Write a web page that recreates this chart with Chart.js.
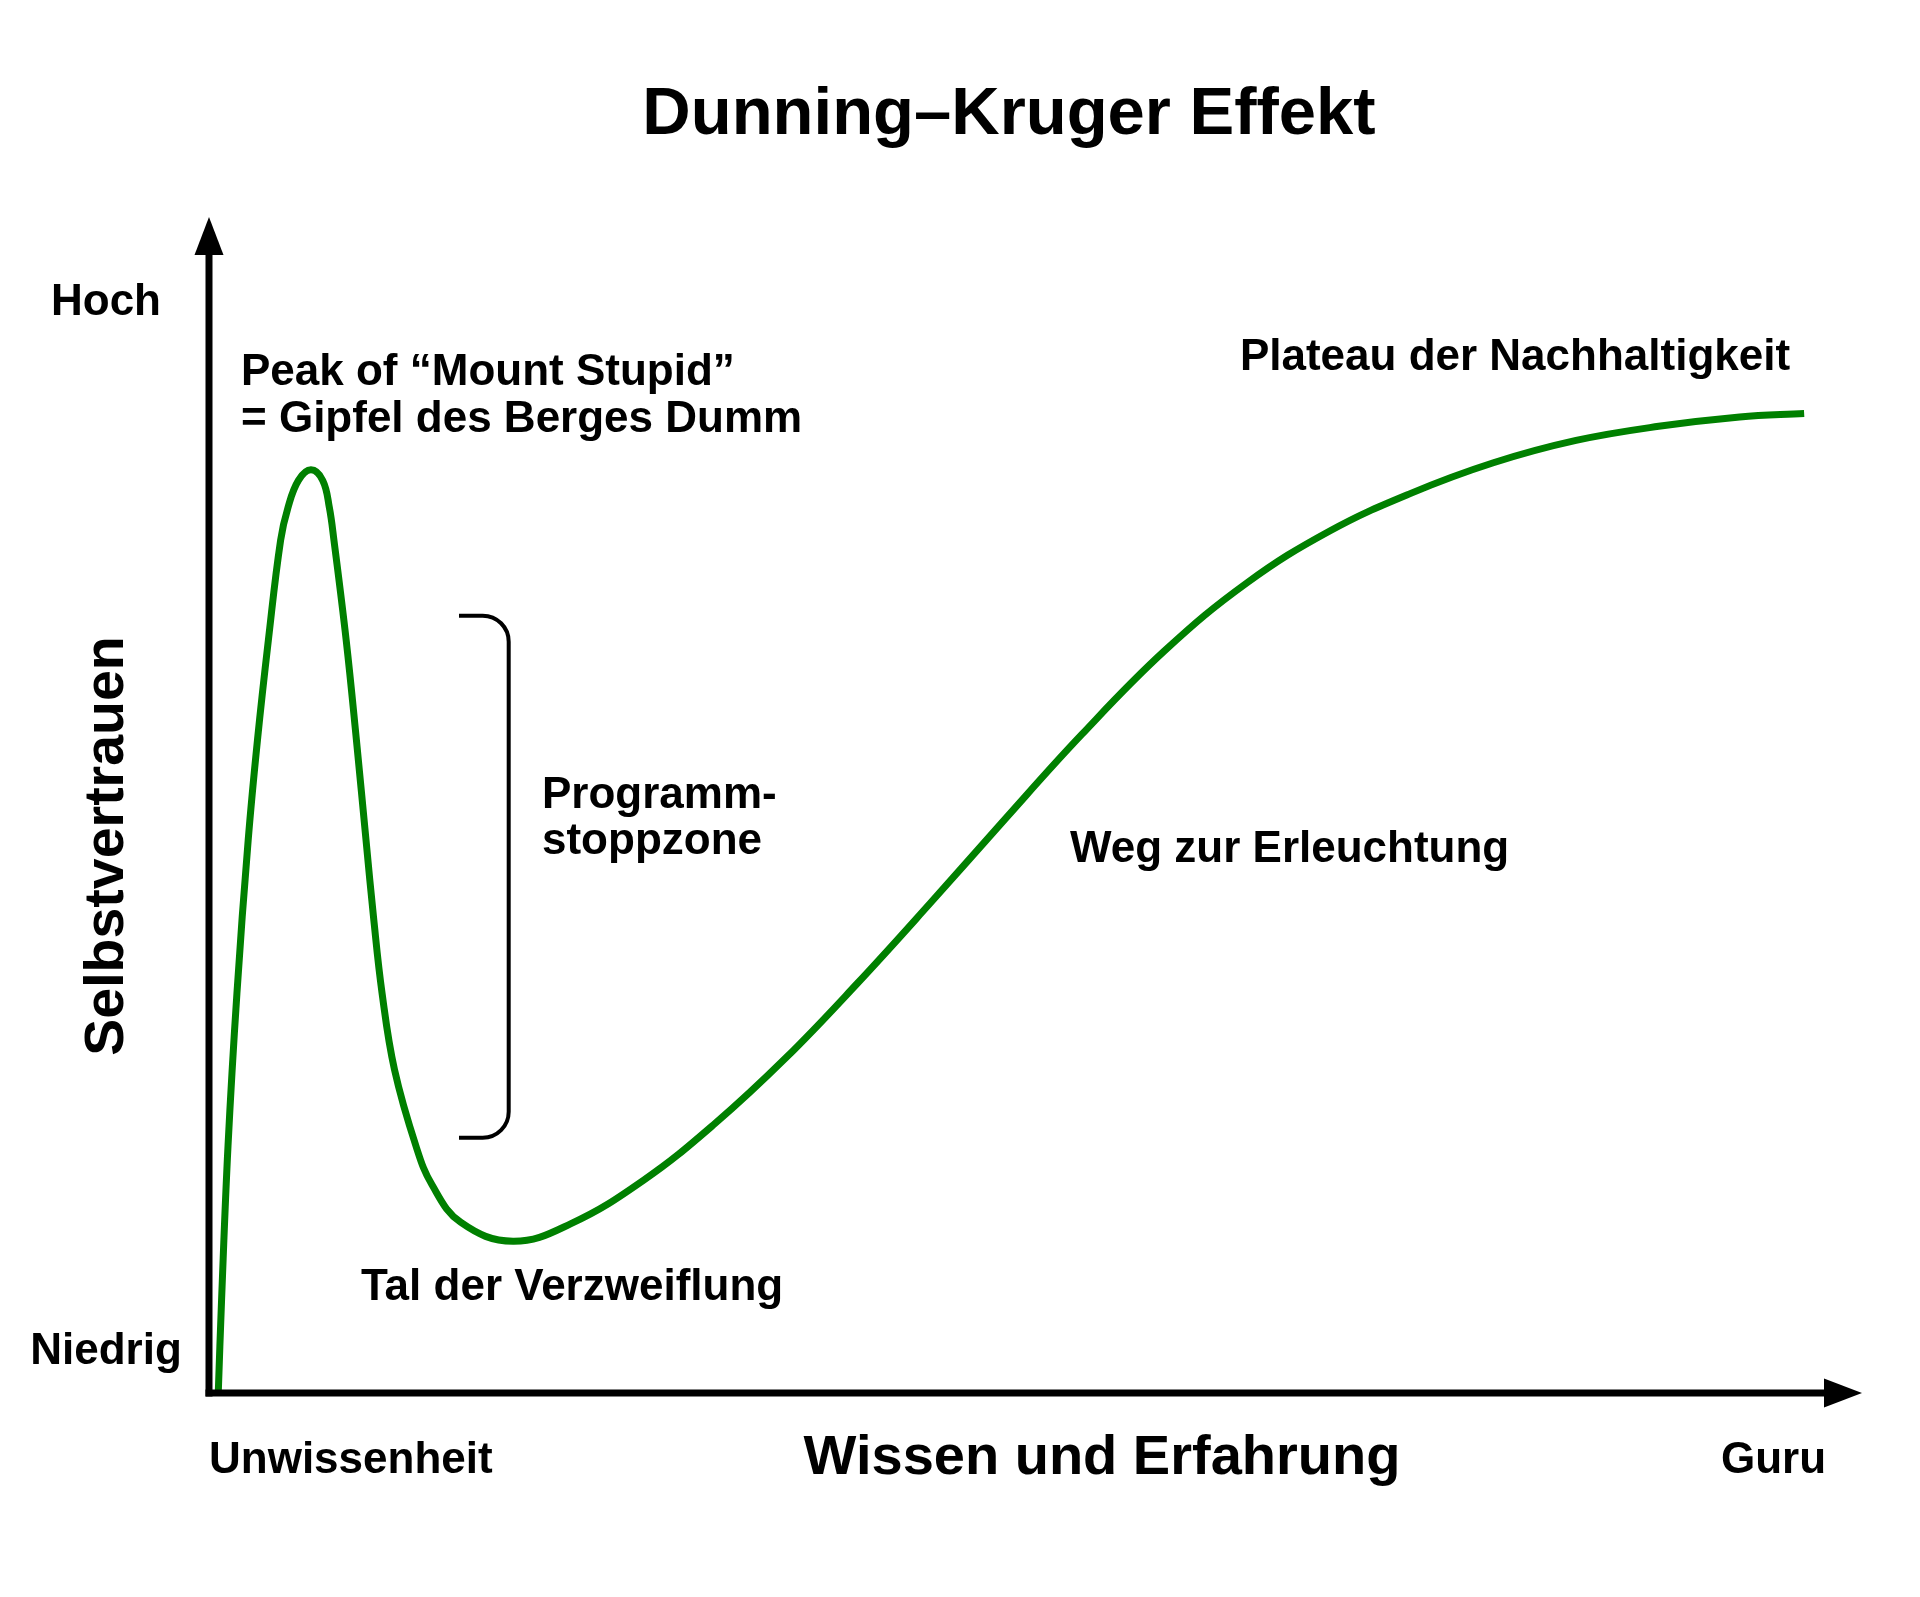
<!DOCTYPE html>
<html lang="de">
<head>
<meta charset="utf-8">
<title>Dunning–Kruger Effekt</title>
<script src="https://cdn.jsdelivr.net/npm/chart.js@4.4.1/dist/chart.umd.min.js"></script>
<style>
  html, body { margin: 0; padding: 0; background: #fff; }
  canvas { display: block; }
</style>
</head>
<body>
<canvas id="chart" width="1920" height="1597"></canvas>
<script>
// Wissen und Erfahrung (0 = Unwissenheit, 100 = Pfeilspitze)
const knowledge = [
  0.56, 0.76, 1.15, 1.69, 2.37, 2.93, 3.59, 4.33, 4.78, 5.41,
  6.17, 6.88, 7.28, 7.56, 8.30, 8.92, 9.50, 9.95, 10.47, 11.22,
  12.52, 13.49, 15.24, 18.39, 21.9, 26.3, 30.6, 34.9, 39.2, 43.6,
  47.9, 52.8, 57.8, 62.8, 67.8, 72.7, 77.7, 82.7, 87.7, 92.6,
  96.5
];

// Selbstvertrauen (0 = Achse, 100 = Pfeilspitze)
const confidence = [
  0.0, 7.9, 21.0, 34.0, 47.0, 55.5, 64.0, 72.5, 75.3, 77.6,
  78.5, 77.6, 75.3, 72.5, 64.0, 55.5, 47.0, 40.5, 34.0, 27.5,
  21.0, 17.7, 14.5, 12.9, 14.4, 18.1, 22.9, 28.5, 34.8, 41.6,
  48.4, 56.0, 63.1, 68.9, 73.3, 76.5, 79.1, 81.0, 82.2, 83.0,
  83.3
];

const yTickLabels = ['Niedrig', 'Hoch'];
const yTickValues = [3.8, 93.0];
const xTickLabels = ['Unwissenheit', 'Guru'];
const stopZone = [21.7, 66.1];

const FONT = '"Liberation Sans", Arial, Helvetica, sans-serif';
const CURVE_COLOR = 'rgb(0, 128, 0)';

const drawText = (ctx, text, x, y, size, align = 'left') => {
  ctx.font = `bold ${size}px ${FONT}`;
  ctx.textAlign = align;
  ctx.textBaseline = 'alphabetic';
  ctx.fillText(text, x, y);
};

const sketchPlugin = {
  id: 'sketch',
  beforeDraw(chart) {
    const { ctx, width, height } = chart;
    ctx.save();
    ctx.fillStyle = '#fff';
    ctx.fillRect(0, 0, width, height);
    ctx.restore();
  },
  afterDatasetsDraw(chart) {
    const { ctx, chartArea: area, scales: { x, y } } = chart;
    const x0 = x.getPixelForValue(0);
    const y0 = y.getPixelForValue(0);

    ctx.save();
    ctx.strokeStyle = '#000';
    ctx.fillStyle = '#000';
    ctx.lineWidth = 7;
    ctx.lineCap = 'butt';

    // y axis with arrow
    ctx.beginPath();
    ctx.moveTo(x0, y0 + 3.5);
    ctx.lineTo(x0, area.top + 36);
    ctx.stroke();
    ctx.beginPath();
    ctx.moveTo(x0, area.top);
    ctx.lineTo(x0 + 14.5, area.top + 38);
    ctx.lineTo(x0 - 14.5, area.top + 38);
    ctx.closePath();
    ctx.fill();

    // x axis with arrow
    ctx.beginPath();
    ctx.moveTo(x0 - 3.5, y0);
    ctx.lineTo(area.right - 36, y0);
    ctx.stroke();
    ctx.beginPath();
    ctx.moveTo(area.right, y0);
    ctx.lineTo(area.right - 38, y0 - 14.5);
    ctx.lineTo(area.right - 38, y0 + 14.5);
    ctx.closePath();
    ctx.fill();

    // bracket for the stop zone
    const top = y.getPixelForValue(stopZone[1]);
    const bottom = y.getPixelForValue(stopZone[0]);
    const bx = 508.7;
    const left = 459;
    const r = 26;
    ctx.lineWidth = 4;
    ctx.beginPath();
    ctx.moveTo(left, top);
    ctx.lineTo(bx - r, top);
    ctx.arcTo(bx, top, bx, top + r, r);
    ctx.lineTo(bx, bottom - r);
    ctx.arcTo(bx, bottom, bx - r, bottom, r);
    ctx.lineTo(left, bottom);
    ctx.stroke();
    ctx.restore();
  },
  afterDraw(chart) {
    const { ctx, scales: { y } } = chart;
    ctx.save();
    ctx.fillStyle = '#000';

    drawText(ctx, 'Dunning–Kruger Effekt', 1009, 134, 67, 'center');

    // y tick labels (vertical centre of the text at the value)
    yTickLabels.forEach((label, i) => {
      drawText(ctx, label, 106, y.getPixelForValue(yTickValues[i]) + 15.5, 44, 'center');
    });

    drawText(ctx, xTickLabels[0], 209, 1473, 44);
    drawText(ctx, xTickLabels[1], 1721, 1473, 44);

    drawText(ctx, 'Wissen und Erfahrung', 1102, 1474, 56, 'center');

    ctx.save();
    ctx.translate(123, 846);
    ctx.rotate(-Math.PI / 2);
    drawText(ctx, 'Selbstvertrauen', 0, 0, 55.5, 'center');
    ctx.restore();

    drawText(ctx, 'Peak of “Mount Stupid”', 241, 385, 44);
    drawText(ctx, '= Gipfel des Berges Dumm', 241, 432, 44);
    drawText(ctx, 'Plateau der Nachhaltigkeit', 1515, 370, 44, 'center');
    drawText(ctx, 'Programm-', 542, 808, 44);
    drawText(ctx, 'stoppzone', 542, 854, 44);
    drawText(ctx, 'Weg zur Erleuchtung', 1070, 862, 44);
    drawText(ctx, 'Tal der Verzweiflung', 361, 1300, 44);

    ctx.restore();
  }
};

const points = knowledge.map((k, i) => ({ x: k, y: confidence[i] }));

new Chart(document.getElementById('chart'), {
  type: 'line',
  data: {
    datasets: [{
      label: 'Selbstvertrauen',
      data: points,
      borderColor: CURVE_COLOR,
      borderWidth: 7,
      borderJoinStyle: 'round',
      pointRadius: 0,
      fill: false,
      tension: 0.4
    }]
  },
  options: {
    responsive: false,
    animation: false,
    devicePixelRatio: 1,
    layout: {
      padding: { left: 209, right: 58, top: 217, bottom: 204 }
    },
    scales: {
      x: { type: 'linear', min: 0, max: 100, display: false },
      y: { type: 'linear', min: 0, max: 100, display: false }
    },
    plugins: {
      legend: { display: false },
      title: { display: false },
      tooltip: { enabled: false }
    }
  },
  plugins: [sketchPlugin]
});
</script>
</body>
</html>
